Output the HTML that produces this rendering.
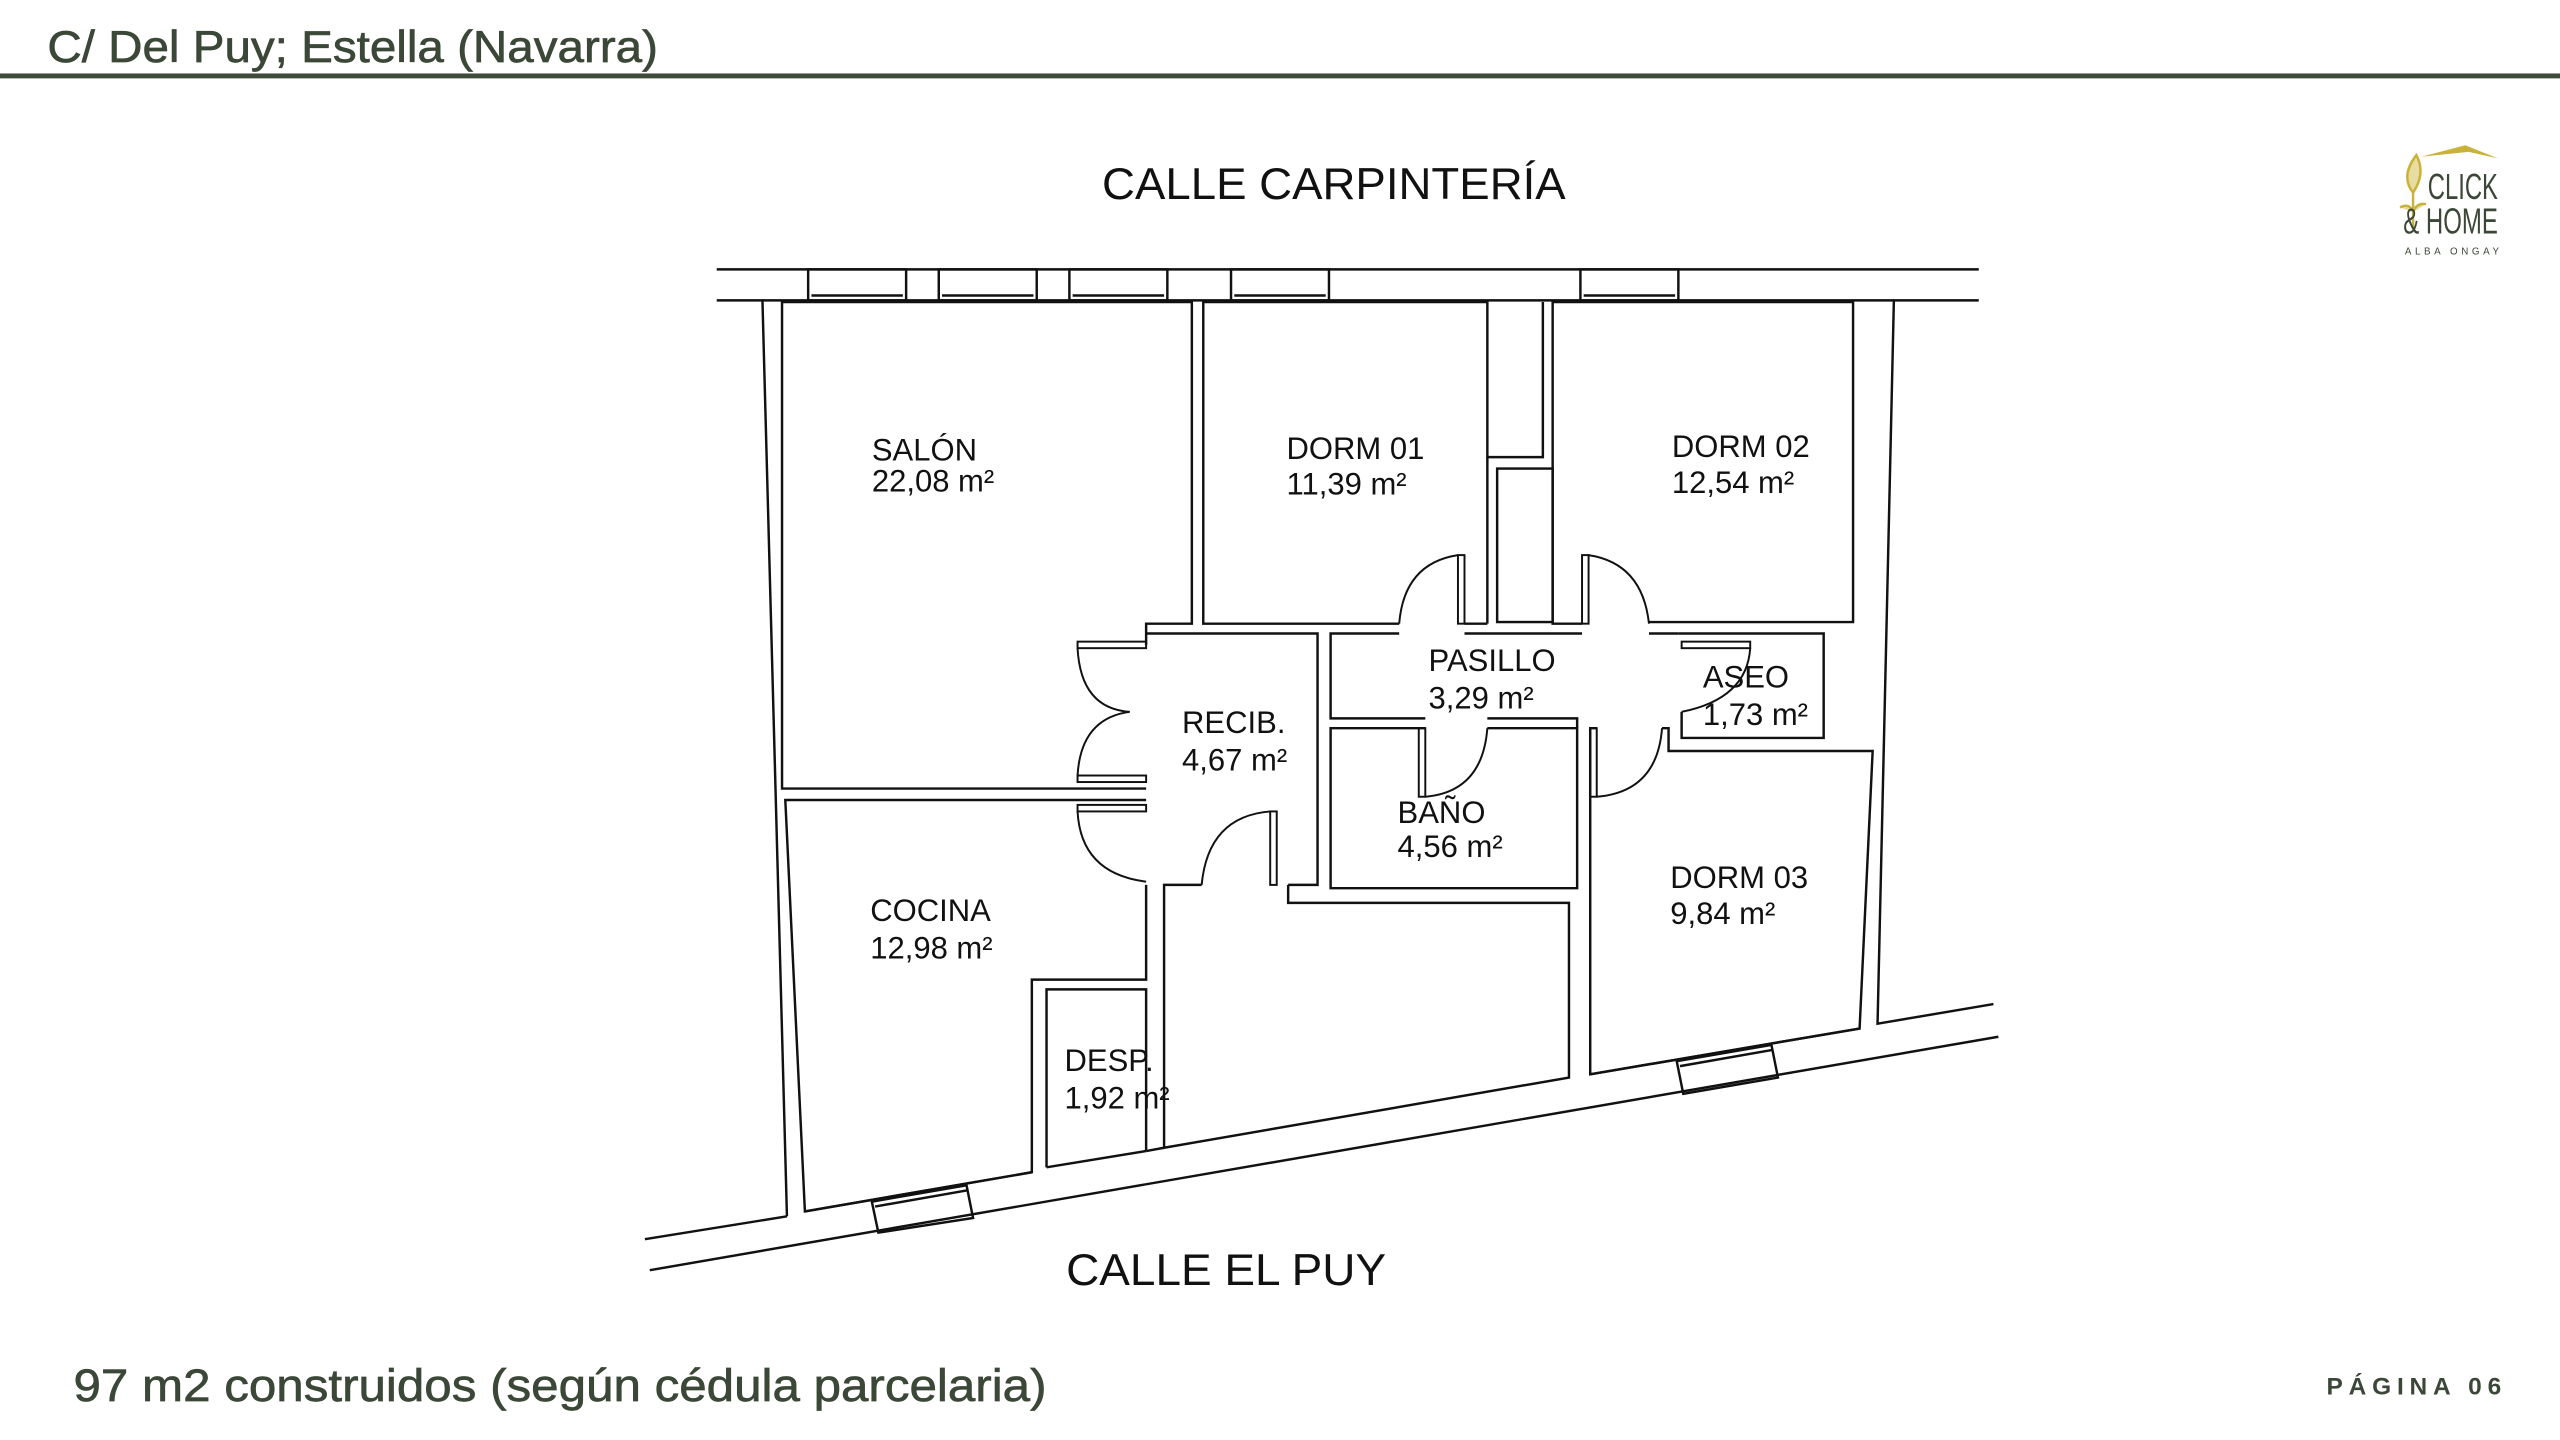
<!DOCTYPE html>
<html><head><meta charset="utf-8"><style>
html,body{margin:0;padding:0;background:#fff;}
svg{display:block;}
</style></head><body>
<svg width="2560" height="1440" viewBox="0 0 1568 882" xmlns="http://www.w3.org/2000/svg">
<rect width="1568" height="882" fill="#fff"/>
<text x="29" y="38" font-family="Liberation Sans, sans-serif" font-size="27" fill="#3b4737" stroke="#3b4737" stroke-width="0.4" textLength="374" lengthAdjust="spacingAndGlyphs">C/ Del Puy; Estella (Navarra)</text>
<rect x="0" y="45" width="1568" height="3" fill="#3e4a3b"/>
<text x="817" y="122" text-anchor="middle" font-family="Liberation Sans, sans-serif" font-size="27" fill="#111" textLength="284" lengthAdjust="spacingAndGlyphs">CALLE CARPINTERÍA</text>
<text x="751" y="787" text-anchor="middle" font-family="Liberation Sans, sans-serif" font-size="27" fill="#111" textLength="196" lengthAdjust="spacingAndGlyphs">CALLE EL PUY</text>
<text x="45" y="858" font-family="Liberation Sans, sans-serif" font-size="28" fill="#3b4737" stroke="#3b4737" stroke-width="0.4" textLength="596" lengthAdjust="spacingAndGlyphs">97 m2 construidos (según cédula parcelaria)</text>
<text x="1425" y="854" font-family="Liberation Sans, sans-serif" font-size="15" font-weight="bold" fill="#3b4737" letter-spacing="3" textLength="110" lengthAdjust="spacing">PÁGINA 06</text>

<!-- logo -->
<path d="M1483,96 L1510,89 L1530,97 L1512,93 Z" fill="#c9b23a"/>
<path d="M1478,118 Q1470,108 1480,95 Q1486,106 1478,118 Z M1478,118 L1478,140 M1470,127 Q1476,124 1478,130 M1486,125 Q1480,124 1478,130" stroke="#c9b23a" stroke-width="1.5" fill="#e8dca0"/>
<text x="1487" y="122" font-family="Liberation Sans Narrow, Liberation Sans, sans-serif" font-size="22" fill="#3b4737" textLength="43" lengthAdjust="spacingAndGlyphs">CLICK</text>
<text x="1472" y="143" font-family="Liberation Sans Narrow, Liberation Sans, sans-serif" font-size="22" fill="#3b4737" textLength="58" lengthAdjust="spacingAndGlyphs">&amp; HOME</text>
<text x="1473" y="156" font-family="Liberation Sans, sans-serif" font-size="6" fill="#3b4737" letter-spacing="2.2">ALBA ONGAY</text>

<g fill="none" stroke="#111" stroke-width="1.5">
<line x1="439" y1="165" x2="1212" y2="165"/>
<polyline points="439,184 467,184 482,745"/>
<polyline points="1212,184 1160,184 1150,627 1221,615"/>
<line x1="467" y1="184" x2="1160" y2="184"/>
<g>
<rect x="495" y="165" width="60" height="19"/><line x1="497" y1="181" x2="553" y2="181"/>
<rect x="575" y="165" width="60" height="19"/><line x1="577" y1="181" x2="633" y2="181"/>
<rect x="655" y="165" width="60" height="19"/><line x1="657" y1="181" x2="713" y2="181"/>
<rect x="754" y="165" width="60" height="19"/><line x1="756" y1="181" x2="812" y2="181"/>
<rect x="968" y="165" width="60" height="19"/><line x1="970" y1="181" x2="1026" y2="181"/>
</g>
<polyline points="702,395 702,382 730,382 730,185 479,185 479,483 702,483"/>
<polyline points="702,490 481,490 493,742 632,718 632,600 702,600 702,542"/>
<polyline points="641,715 641,606 702,606 702,705"/>
<line x1="641" y1="715" x2="702" y2="705"/>
<polyline points="736,542 713,542 713,703 961,660 961,553 789,553 789,542"/>
<polyline points="857,382 737,382 737,185 911,185 911,280 945,280 945,185"/>
<line x1="897" y1="382" x2="911" y2="382"/>
<line x1="911" y1="280" x2="911" y2="382"/>
<rect x="917" y="287" width="34" height="94"/>
<polyline points="969,382 951,382 951,185 1135,185 1135,381 1010,381"/>
<polyline points="702,388 807,388 807,542 789,542"/>
<polyline points="857,388 815,388 815,440 873,440"/>
<line x1="897" y1="388" x2="969" y2="388"/>
<polyline points="1010,388 1028,388"/>
<polyline points="911,440 966,440 966,446"/>
<polyline points="1028,388 1117,388 1117,452 1030,452 1030,436"/>
<polyline points="873,446 815,446 815,544 966,544 966,446 911,446"/>
<polyline points="1018,446 1022,446 1022,460 1147,460 1139,630 974,658 974,446 978,446"/>
<line x1="398" y1="778" x2="1224" y2="635"/>
<line x1="395" y1="759" x2="482" y2="745"/>
<line x1="493" y1="742" x2="632" y2="718"/>
<line x1="702" y1="705" x2="713" y2="703"/>
<line x1="974" y1="658" x2="1139" y2="630"/>
<path d="M534,736 L592,726 L596,746 L538,755 Z"/>
<line x1="536" y1="739" x2="593" y2="729"/>
<path d="M1027,650 L1085,640 L1089,660 L1031,670 Z"/>
<line x1="1029" y1="653" x2="1086" y2="643"/>
<g stroke-width="1.2">
<rect x="660" y="393" width="42" height="4"/>
<path d="M660,397 Q662,434 692,436 Q662,440 660,475"/>
<rect x="660" y="475" width="42" height="4"/>
<rect x="660" y="493" width="42" height="4"/>
<path d="M660,497 Q662,535 702,540"/>
<rect x="778" y="497" width="4" height="45"/>
<path d="M778,497 Q740,500 736,542"/>
<rect x="893" y="340" width="4" height="42"/>
<path d="M893,340 Q860,345 857,382"/>
<rect x="969" y="340" width="4" height="42"/>
<path d="M973,340 Q1006,345 1010,382"/>
<rect x="1030" y="393" width="42" height="4"/>
<path d="M1072,397 Q1070,428 1030,436"/>
<rect x="869" y="446" width="4" height="42"/>
<path d="M873,488 Q908,485 911,446"/>
<rect x="974" y="446" width="4" height="42"/>
<path d="M978,488 Q1015,485 1018,446"/>
</g>
</g>

<g font-family="Liberation Sans, sans-serif" font-size="19" fill="#111">
<text x="534" y="282">SALÓN</text><text x="534" y="301">22,08 m²</text>
<text x="788" y="281">DORM 01</text><text x="788" y="303">11,39 m²</text>
<text x="1024" y="280">DORM 02</text><text x="1024" y="302">12,54 m²</text>
<text x="875" y="411">PASILLO</text><text x="875" y="434">3,29 m²</text>
<text x="1043" y="421">ASEO</text><text x="1043" y="444">1,73 m²</text>
<text x="724" y="449">RECIB.</text><text x="724" y="472">4,67 m²</text>
<text x="856" y="504">BAÑO</text><text x="856" y="525">4,56 m²</text>
<text x="1023" y="544">DORM 03</text><text x="1023" y="566">9,84 m²</text>
<text x="533" y="564">COCINA</text><text x="533" y="587">12,98 m²</text>
<text x="652" y="656">DESP.</text><text x="652" y="679">1,92 m²</text>
</g>
</svg>
</body></html>
